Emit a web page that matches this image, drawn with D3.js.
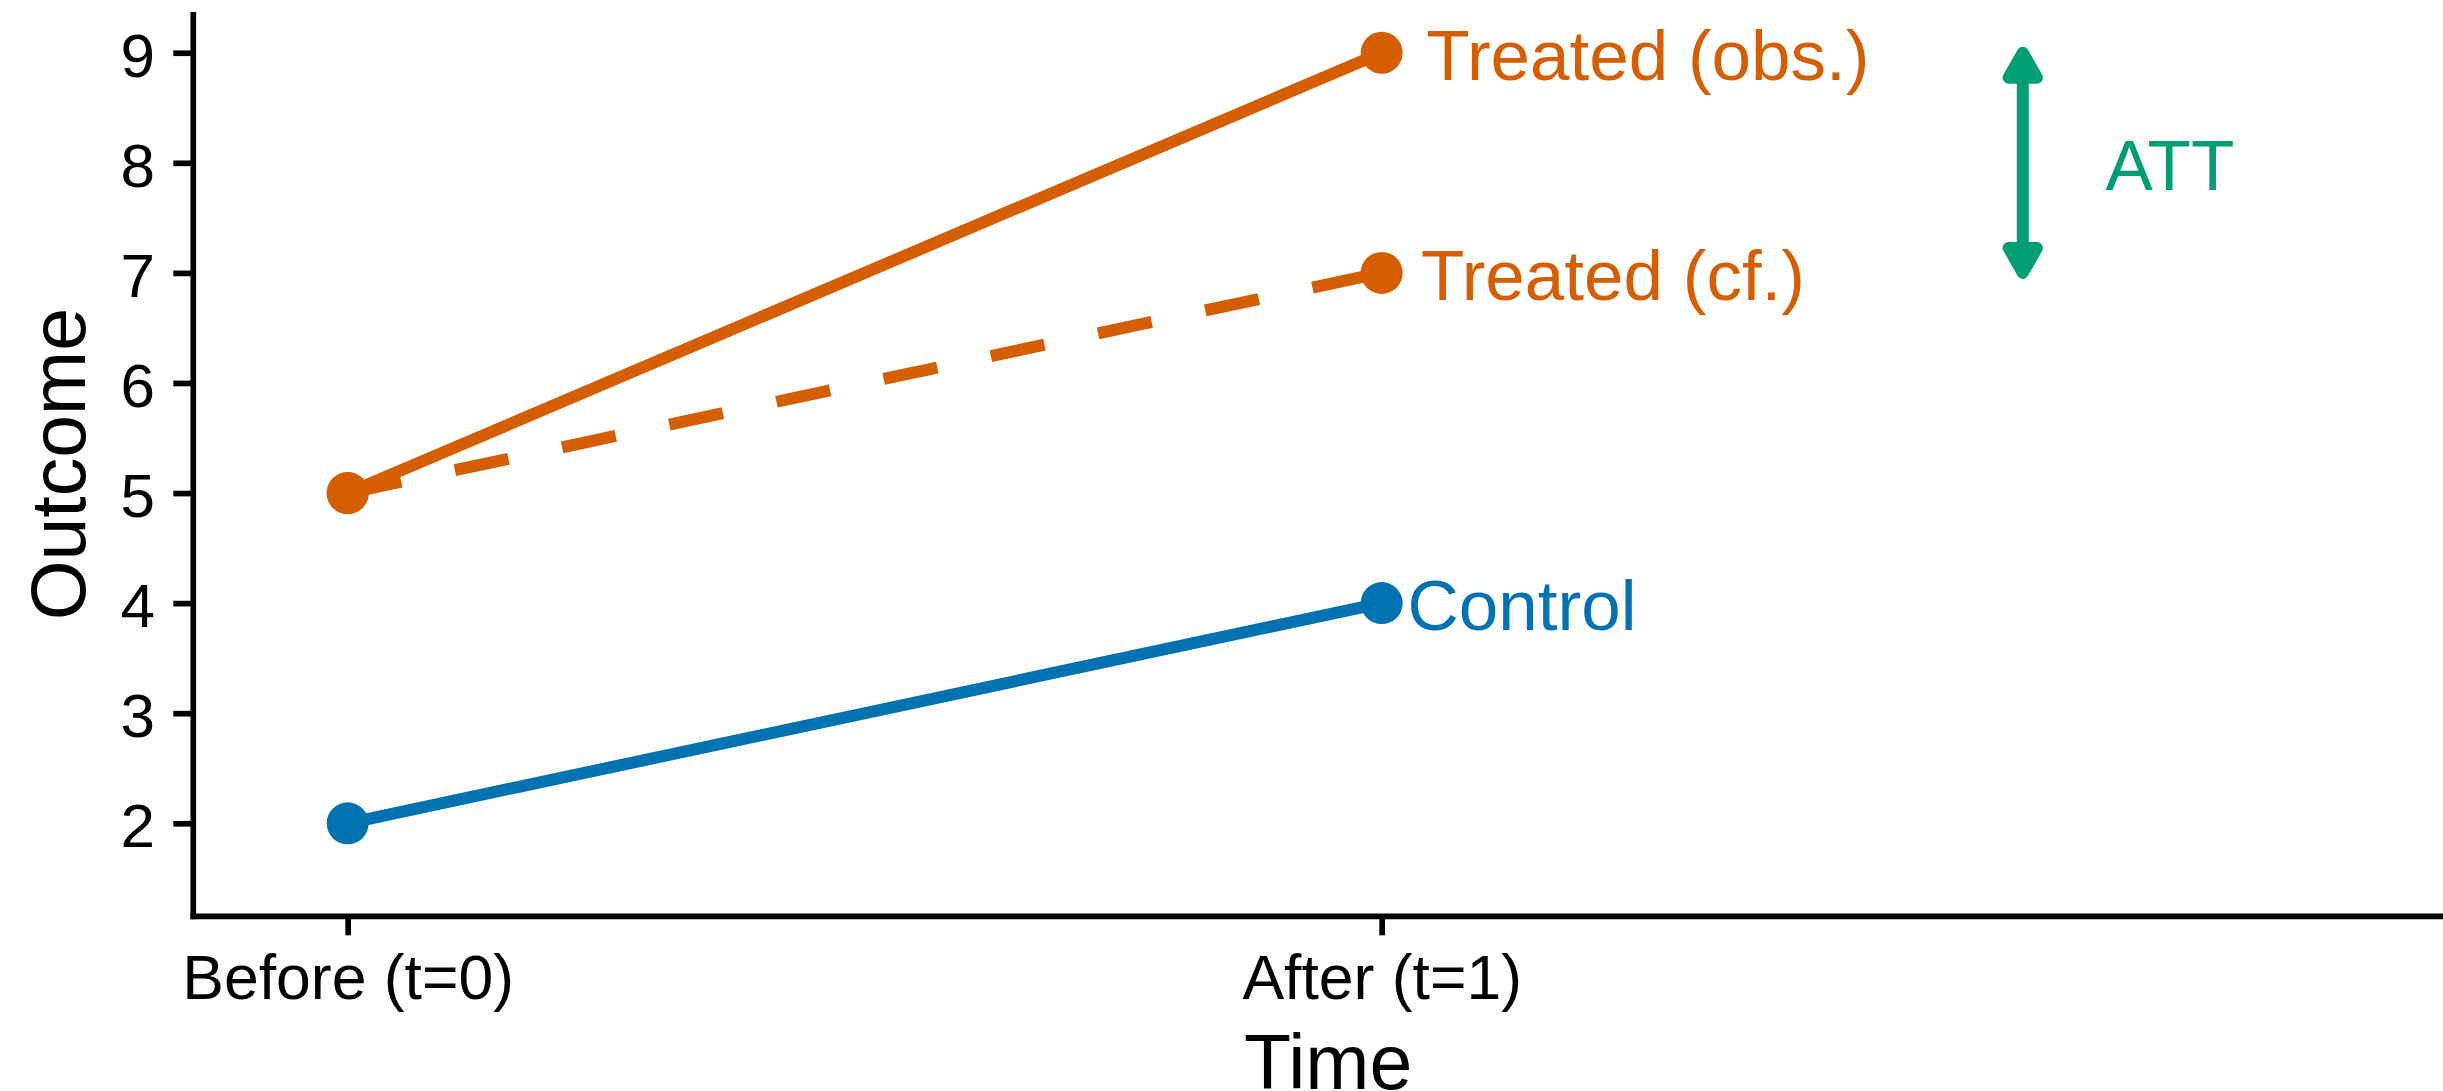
<!DOCTYPE html>
<html>
<head>
<meta charset="utf-8">
<script src="https://cdn.jsdelivr.net/npm/d3@7"></script>
<style>
  html, body { margin: 0; padding: 0; background: #fff; }
  svg { display: block; }
  text { font-family: "Liberation Sans", Arial, Helvetica, sans-serif; }
</style>
</head>
<body>
<div id="chart"></div>
<script>
// ---- data ----
const timeLabels = ["Before (t=0)", "After (t=1)"];
const timeX = [1, 2];
const treatedObsY = [5, 9];
const treatedCfY = [5, 7];
const controlY = [2, 4];
const seriesNames = ["Treated (obs.)", "Treated (cf.)", "Control"];
const seriesLabelX = [2.043, 2.038, 2.025];
const yTicks = [2, 3, 4, 5, 6, 7, 8, 9];
const attX = 2.62;
const attRange = [7, 9];
const attLabel = "ATT";
const attLabelPos = [2.7, 8];
const xTitle = "Time";
const yTitle = "Outcome";

// ---- styles ----
const ORANGE = "#D55E00", BLUE = "#0072B2", GREEN = "#009E73";
const W = 2443, H = 1091;
const AXIS_W = 5.7, LINE_W = 12, PT_R = 21;

const svg = d3.select("#chart").append("svg").attr("width", W).attr("height", H);

const x = d3.scaleLinear().domain([0.8507, 3.0264]).range([193.3, 2443]);
const y = d3.scaleLinear().domain([1.155, 9.37]).range([916.3, 12]);

// axes
const yAxis = d3.axisLeft(y).tickValues(yTicks).tickSize(20).tickSizeOuter(0).tickPadding(18.3);
const gy = svg.append("g").attr("transform", `translate(${x.range()[0]},0)`).call(yAxis);
gy.select(".domain").remove();
gy.selectAll(".tick line").attr("stroke", "#000").attr("stroke-width", AXIS_W);
gy.selectAll(".tick text").attr("font-size", 62).attr("fill", "#000").attr("dy", "0.38em")
  .attr("font-family", "'Liberation Sans', Arial, sans-serif");

const xAxis = d3.axisBottom(x).tickValues(timeX).tickFormat((d, i) => timeLabels[i])
  .tickSize(19).tickSizeOuter(0).tickPadding(19);
const gx = svg.append("g").attr("transform", `translate(0,${y.range()[0]})`).call(xAxis);
gx.select(".domain").remove();
gx.selectAll(".tick line").attr("stroke", "#000").attr("stroke-width", AXIS_W);
gx.selectAll(".tick text").attr("font-size", 62.5).attr("fill", "#000")
  .attr("font-family", "'Liberation Sans', Arial, sans-serif");

// axis lines
svg.append("line").attr("x1", x.range()[0]).attr("x2", x.range()[0])
  .attr("y1", y.range()[0] + AXIS_W / 2).attr("y2", y.range()[1])
  .attr("stroke", "#000").attr("stroke-width", AXIS_W);
svg.append("line").attr("x1", x.range()[0] - AXIS_W / 2).attr("x2", x.range()[1])
  .attr("y1", y.range()[0]).attr("y2", y.range()[0])
  .attr("stroke", "#000").attr("stroke-width", AXIS_W);

// axis titles
svg.append("text").attr("x", (x.range()[0] + x.range()[1]) / 2 + 10).attr("y", 1089)
  .attr("text-anchor", "middle").attr("font-size", 77).attr("fill", "#000").text(xTitle);
svg.append("text").attr("transform", `translate(85,${(y.range()[0] + y.range()[1]) / 2}) rotate(-90)`)
  .attr("text-anchor", "middle").attr("font-size", 77).attr("fill", "#000").text(yTitle);

// series
const series = [
  { name: seriesNames[0], values: treatedObsY, color: ORANGE, dash: null, lx: seriesLabelX[0] },
  { name: seriesNames[1], values: treatedCfY, color: ORANGE, dash: "54.8,54.8", lx: seriesLabelX[1] },
  { name: seriesNames[2], values: controlY, color: BLUE, dash: null, lx: seriesLabelX[2] }
];
const line = d3.line().x((d, i) => x(timeX[i])).y(d => y(d));

svg.append("g").selectAll("path").data(series).join("path")
  .attr("d", s => line(s.values)).attr("fill", "none")
  .attr("stroke", s => s.color).attr("stroke-width", LINE_W)
  .attr("stroke-dasharray", s => s.dash).attr("stroke-linecap", "butt");

const pts = svg.append("g");
series.forEach(s => {
  pts.selectAll(null).data(s.values).join("circle")
    .attr("cx", (d, i) => x(timeX[i])).attr("cy", d => y(d))
    .attr("r", PT_R).attr("fill", s.color);
});

// series labels
svg.append("g").selectAll("text").data(series).join("text")
  .attr("x", s => x(s.lx)).attr("y", s => y(s.values[s.values.length - 1]))
  .attr("dy", "0.38em").attr("font-size", 71).attr("fill", s => s.color).text(s => s.name);

// ATT arrow
const ax = x(attX), yTop = y(attRange[1]), yBot = y(attRange[0]);
const HL = 25, HW = 14.2, AW = 12;
const g = svg.append("g");
g.append("line").attr("x1", ax).attr("x2", ax).attr("y1", yTop + HL - 2).attr("y2", yBot - HL + 2)
  .attr("stroke", GREEN).attr("stroke-width", AW);
g.append("path").attr("d", `M${ax},${yTop}L${ax - HW},${yTop + HL}L${ax + HW},${yTop + HL}Z`)
  .attr("fill", GREEN).attr("stroke", GREEN).attr("stroke-width", AW).attr("stroke-linejoin", "round");
g.append("path").attr("d", `M${ax},${yBot}L${ax - HW},${yBot - HL}L${ax + HW},${yBot - HL}Z`)
  .attr("fill", GREEN).attr("stroke", GREEN).attr("stroke-width", AW).attr("stroke-linejoin", "round");
svg.append("text").attr("x", x(attLabelPos[0])).attr("y", y(attLabelPos[1])).attr("dy", "0.38em")
  .attr("font-size", 71).attr("fill", GREEN).text(attLabel);
</script>
</body>
</html>
